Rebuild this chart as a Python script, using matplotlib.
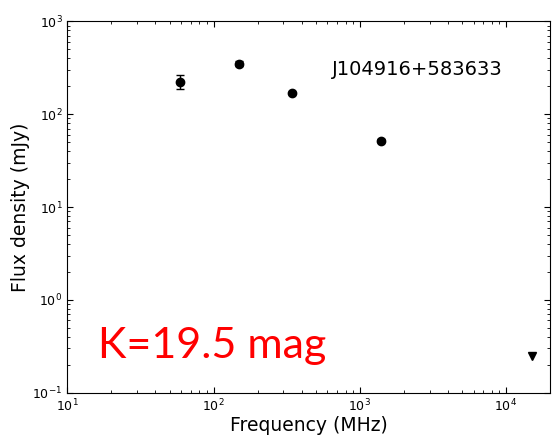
import matplotlib
matplotlib.use("Agg")
import matplotlib.pyplot as plt
from matplotlib.ticker import LogLocator, NullFormatter

freq = [59, 150, 345, 1400]
flux = [224, 350, 169, 52]
err = [37, 20, 6, 2]
lim_freq = [15000]
lim_flux = [0.25]
source_name = "J104916+583633"
k_label = "K=19.5 mag"

fig = plt.figure(figsize=(5.58, 4.36), dpi=100)
ax = fig.add_axes([67.3/558, 1-392.7/436, (550-67.3)/558, (392.7-21.3)/436])
ax.set_xscale("log")
ax.set_yscale("log")
ax.errorbar(freq, flux, yerr=err, fmt="o", color="black", ms=6, capsize=3, elinewidth=1)
ax.plot(lim_freq, lim_flux, "v", color="black", ms=6)
ax.set_xlim(10, 2e4)
ax.set_ylim(0.1, 1000)
ax.set_xlabel("Frequency (MHz)", fontsize=13.5, labelpad=1)
ax.set_ylabel("Flux density (mJy)", fontsize=13.5, labelpad=2)
ax.tick_params(which="both", direction="in", top=True, right=True, labelsize=9)
ax.tick_params(which="major", length=4)
ax.tick_params(which="minor", length=2)
ax.xaxis.set_minor_locator(LogLocator(base=10, subs=range(2, 10), numticks=20))
ax.yaxis.set_minor_locator(LogLocator(base=10, subs=range(2, 10), numticks=20))
ax.xaxis.set_minor_formatter(NullFormatter())
ax.yaxis.set_minor_formatter(NullFormatter())
ax.text(649, 263, source_name, fontsize=14, color="black")
ax.text(16.2, 0.237, k_label, fontsize=31, color="red", family="Lato")
fig.savefig("out.png", dpi=100)
